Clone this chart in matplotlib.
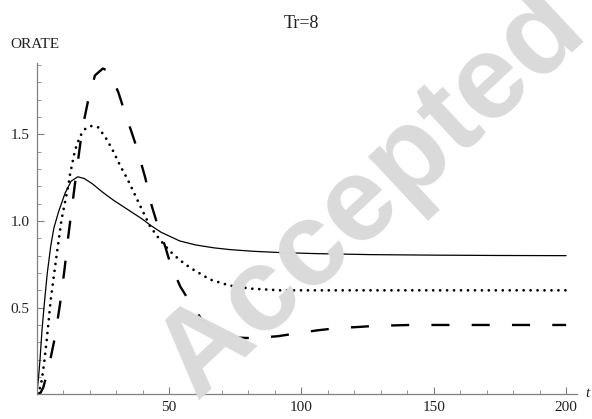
import matplotlib
matplotlib.use("Agg")
import matplotlib.pyplot as plt
from matplotlib.ticker import MultipleLocator, FixedLocator

plt.rcParams['font.family'] = ['Liberation Serif', 'DejaVu Serif']
plt.rcParams['lines.scale_dashes'] = False

# curves (t, ORATE)
t_solid = [0, 0.6, 1.25, 2.0, 2.8, 4.0, 5.3, 6.5, 8.2, 10.7, 13, 15.5, 18, 21, 25, 29,
           32, 35, 40, 43, 47, 54, 60, 67, 73, 82, 92, 105, 126, 150, 175, 200]
y_solid = [0, 0.08, 0.2, 0.37, 0.51, 0.70, 0.855, 0.96, 1.05, 1.16, 1.23, 1.255, 1.245,
           1.215, 1.165, 1.12, 1.09, 1.06, 1.01, 0.975, 0.935, 0.885, 0.862, 0.845,
           0.835, 0.825, 0.818, 0.812, 0.806, 0.803, 0.801, 0.80]

t_dot = [0, 1, 1.9, 2.8, 3.8, 5.3, 7.3, 9.4, 11.9, 12.6, 14.5, 16.4, 18.5, 20.5, 23.3,
         26.5, 29, 31.6, 34, 35.3, 39, 42.8, 46.6, 50.4, 54, 58, 65.5, 73, 80.7, 92,
         100, 200]
y_dot = [0, 0.025, 0.08, 0.18, 0.315, 0.546, 0.777, 1.01, 1.2, 1.27, 1.41, 1.49, 1.535,
         1.548, 1.54, 1.47, 1.40, 1.317, 1.25, 1.21, 1.09, 0.97, 0.89, 0.825, 0.775,
         0.73, 0.662, 0.627, 0.61, 0.60, 0.60, 0.60]

t_dash = [0, 1.5, 2.5, 3.1, 5, 6.9, 8.8, 10.5, 12, 13.5, 15, 16.5, 17.6, 19.5, 22, 25,
          27, 29, 30.9, 32.7, 35.9, 37.8, 41, 43.4, 45.4, 48.5, 50.4, 54.2, 57.3, 62.4,
          66.8, 71, 75.6, 79, 82.5, 91, 97.5, 106, 113.5, 121, 128, 141, 160, 200]
y_dash = [0, 0.01, 0.04, 0.074, 0.19, 0.33, 0.52, 0.72, 0.92, 1.1, 1.28, 1.45, 1.56,
          1.70, 1.84, 1.88, 1.866, 1.81, 1.74, 1.654, 1.51, 1.423, 1.25, 1.09, 0.99,
          0.855, 0.758, 0.623, 0.546, 0.43, 0.373, 0.345, 0.328, 0.325, 0.325, 0.335,
          0.35, 0.369, 0.382, 0.388, 0.395, 0.40, 0.40, 0.40]

W, H = 592, 419
fig = plt.figure(figsize=(W / 100, H / 100), dpi=100)
ax = fig.add_axes([36.7 / W, 24.7 / H, (576.7 - 36.7) / W, (394.3 - 63.3) / H])
ax.set_xlim(0, 204)
ax.set_ylim(0, 1.91)

# watermark
fig.text(372 / W, 1 - 195 / H, 'Accepted', family='Liberation Sans', weight='bold',
         fontsize=86, color='#dadada', rotation=43, ha='center', va='center', zorder=0)
ax.patch.set_alpha(0)

ax.plot(t_solid, y_solid, color='black', lw=0.9, solid_capstyle='round')
ax.plot(t_dot, y_dot, color='black', lw=2.0, linestyle=(0, (0.01, 5.0)),
        dash_capstyle='round')
ax.plot(t_dash, y_dash, color='black', lw=1.7, linestyle=(0, (13, 16)),
        dash_capstyle='butt')

for s in ['top', 'right']:
    ax.spines[s].set_visible(False)
for s in ['left', 'bottom']:
    ax.spines[s].set_color('#808080')
    ax.spines[s].set_linewidth(0.9)

ax.xaxis.set_major_locator(FixedLocator([50, 100, 150, 200]))
ax.xaxis.set_minor_locator(MultipleLocator(10))
ax.yaxis.set_major_locator(FixedLocator([0.5, 1.0, 1.5]))
ax.yaxis.set_minor_locator(MultipleLocator(0.1))
ax.set_xticklabels(['50', '100', '150', '200'])
ax.set_yticklabels(['0.5', '1.0', '1.5'])
ax.tick_params(which='major', direction='in', length=5, width=0.8, color='#808080',
               labelsize=11, labelcolor='#222222', pad=5)
ax.tick_params(which='minor', direction='in', length=3, width=0.6, color='#808080')

fig.text(10 / W, 1 - 44 / H, 'ORATE', fontsize=11, color='#222222', ha='left', va='center')
fig.text(585 / W, 1 - 393 / H, 't', fontsize=11, style='italic', color='#222222',
         ha='left', va='center')
fig.text(301 / W, 1 - 23.5 / H, 'Tr=8', fontsize=13, color='#222222', ha='center', va='center')

fig.savefig('out.png', dpi=100)
